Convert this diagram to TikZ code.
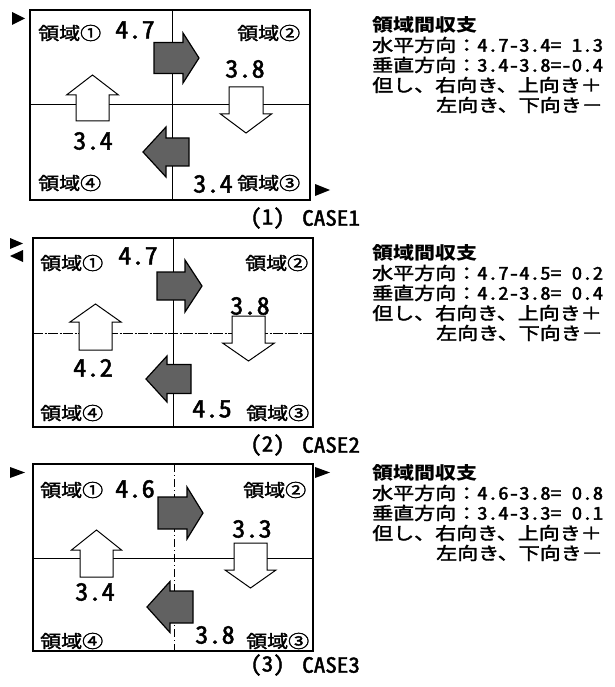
\documentclass[tikz,border=0pt]{standalone}
\usepackage{fontspec}
\newfontfamily\jp[FakeStretch=1.2,FakeBold=2]{Noto Sans CJK JP}
\newfontfamily\jph[FakeStretch=1.2,FakeBold=2,RawFeature=+hwid]{Noto Sans CJK JP}
\newfontfamily\jpn[FakeStretch=1.1,FakeBold=2,RawFeature=+hwid]{Noto Sans CJK JP}
\newfontfamily\jpt[FakeStretch=1.2]{Noto Sans CJK JP}
\tikzset{
 frame/.style={line width=2pt},
 divider/.style={line width=0.8pt},
 darkarrow/.style={draw=black, line width=1.2pt, fill=black!62},
 whitearrow/.style={draw=black, line width=1pt, fill=white},
 marker/.style={fill=black},
 lbl/.style={font=\jp\fontsize{17.5}{17.5}\selectfont, inner sep=0pt, anchor=west},
 num/.style={font=\jpn\fontsize{24}{24}\selectfont, inner sep=0pt, anchor=west},
 txt/.style={font=\jp\fontsize{17.5}{17.5}\selectfont, inner sep=0pt, anchor=west},
 ttl/.style={font=\jpt\bfseries\fontsize{17.5}{17.5}\selectfont, inner sep=0pt, anchor=west},
 captxt/.style={font=\jpn\fontsize{21}{21}\selectfont, inner sep=0pt, anchor=west},
}
% horizontal block arrow: style, x of tail, x of head base, x of tip, y centre, body half, head half
\newcommand\RArrow[7][darkarrow]{%
 \path[#1] (#2,#5-#6) -- (#3,#5-#6) -- (#3,#5-#7) -- (#4,#5) -- (#3,#5+#7) -- (#3,#5+#6) -- (#2,#5+#6) -- cycle;}
% vertical block arrow: style, y of tail, y of head base, y of tip, x centre, body half, head half
\newcommand\VArrow[7][whitearrow]{%
 \path[#1] (#5-#6,#2) -- (#5-#6,#3) -- (#5-#7,#3) -- (#5,#4) -- (#5+#7,#3) -- (#5+#6,#3) -- (#5+#6,#2) -- cycle;}
\begin{document}
\begin{tikzpicture}[x=1pt,y=-1pt]
\useasboundingbox[fill=white] (0,0) rectangle (614,687);

% ================= CASE 1 =================
\draw[divider] (172,10) -- (172,200);
\draw[divider] (30,104) -- (310,104);
\draw[frame] (30,10) rectangle (310,200);
\RArrow{154}{183}{199}{58}{15.5}{25}
\RArrow{189}{166}{143}{152}{14}{25}
\VArrow{121}{95}{75}{92.5}{16.5}{26}
\VArrow{87}{114}{133}{246}{17}{25.5}
\fill[marker] (12,12) -- (25,18.5) -- (12,25) -- cycle;
\fill[marker] (315,184) -- (330,190) -- (315,196) -- cycle;
\node[lbl] (a1) at (38,33) {領域①};
\node[lbl] (a2) at (237,33) {領域②};
\node[lbl] (a3) at (237,183) {領域③};
\node[lbl] (a4) at (38,183) {領域④};
\node[num] (a12) at (115,30) {4.7};
\node[num] (a23) at (225,69) {3.8};
\node[num] (a41) at (73,141) {3.4};
\node[num] (a34) at (193,184) {3.4};
\node[captxt] (ac) at (250,218) {(1)};
\node[captxt] (acc) at (302,218) {CASE1};
\node[ttl] (at0) at (372,25) {領域間収支};
\node[txt] (at1) at (372,45) {水平方向：{\jph 4.7-3.4= 1.3}};
\node[txt] (at2) at (372,65) {垂直方向：{\jph 3.4-3.8=-0.4}};
\node[txt] (at3) at (372,85) {但し、右向き、上向き＋};
\node[txt] (at4) at (436,105) {左向き、下向き－};

% ================= CASE 2 =================
\draw[divider] (173,238) -- (173,427);
\draw[line width=0.6pt, dash pattern=on 10pt off 1.5pt on 2pt off 1.5pt] (33,333) -- (313,333);
\draw[frame] (33,238) rectangle (313,427);
\RArrow{157}{185}{202}{286}{14}{26}
\RArrow{191}{167}{146}{379}{14.5}{23}
\VArrow{350}{322}{304}{95.5}{16.5}{25.5}
\VArrow{316}{343}{361}{248.5}{16.5}{26}
\fill[marker] (10,238) -- (23,243.5) -- (10,249) -- cycle;
\fill[marker] (23,250) -- (10,256) -- (23,262) -- cycle;
\node[lbl] (b1) at (40,263) {領域①};
\node[lbl] (b2) at (245,263) {領域②};
\node[lbl] (b3) at (246,413) {領域③};
\node[lbl] (b4) at (40,413) {領域④};
\node[num] (b12) at (118,256) {4.7};
\node[num] (b23) at (230,306) {3.8};
\node[num] (b41) at (73,368) {4.2};
\node[num] (b34) at (192,409) {4.5};
\node[captxt] (bc) at (250,445) {(2)};
\node[captxt] (bcc) at (302,445) {CASE2};
\node[ttl] (bt0) at (372,253) {領域間収支};
\node[txt] (bt1) at (372,273) {水平方向：{\jph 4.7-4.5= 0.2}};
\node[txt] (bt2) at (372,293) {垂直方向：{\jph 4.2-3.8= 0.4}};
\node[txt] (bt3) at (372,313) {但し、右向き、上向き＋};
\node[txt] (bt4) at (436,333) {左向き、下向き－};

% ================= CASE 3 =================
\draw[divider, dash pattern=on 8pt off 3pt on 1pt off 3pt] (174,464) -- (174,651);
\draw[divider] (33,558) -- (313,558);
\draw[frame] (33,464) rectangle (313,651);
\RArrow{158}{187}{203}{513}{16}{26}
\RArrow{193}{170}{147}{607}{16}{25.5}
\VArrow{577}{550}{530}{96.5}{16.5}{25}
\VArrow{543}{570}{588}{250.5}{16.5}{25.5}
\fill[marker] (10,467) -- (25,472.5) -- (10,478) -- cycle;
\fill[marker] (315,467) -- (330,472.5) -- (315,478) -- cycle;
\node[lbl] (c1) at (40,490) {領域①};
\node[lbl] (c2) at (243,490) {領域②};
\node[lbl] (c3) at (246,641) {領域③};
\node[lbl] (c4) at (40,641) {領域④};
\node[num] (c12) at (115,489) {4.6};
\node[num] (c23) at (232,529) {3.3};
\node[num] (c41) at (75,592) {3.4};
\node[num] (c34) at (195,635) {3.8};
\node[captxt] (cc) at (250,665) {(3)};
\node[captxt] (ccc) at (302,665) {CASE3};
\node[ttl] (ct0) at (372,473) {領域間収支};
\node[txt] (ct1) at (372,493) {水平方向：{\jph 4.6-3.8= 0.8}};
\node[txt] (ct2) at (372,513) {垂直方向：{\jph 3.4-3.3= 0.1}};
\node[txt] (ct3) at (372,533) {但し、右向き、上向き＋};
\node[txt] (ct4) at (436,553) {左向き、下向き－};
\end{tikzpicture}
\end{document}
